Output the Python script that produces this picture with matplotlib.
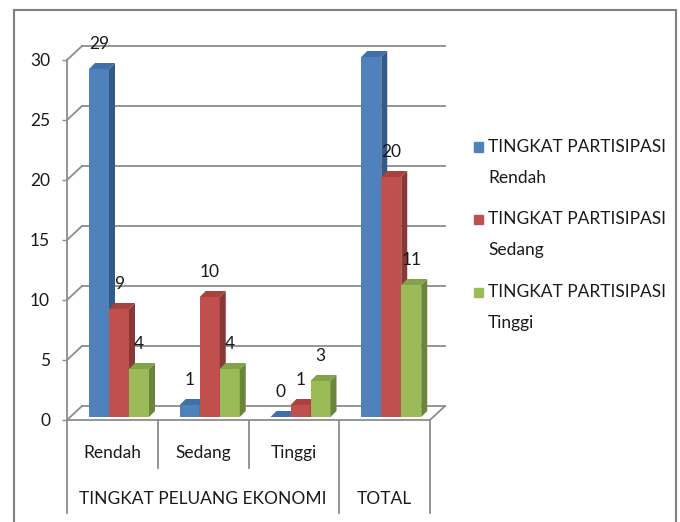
import matplotlib.pyplot as plt
from matplotlib.patches import Polygon, Rectangle
import numpy as np

plt.rcParams['font.family'] = ['Lato', 'DejaVu Sans']

# data
sub_labels = ['Rendah', 'Sedang', 'Tinggi', '']
group_labels = ['TINGKAT PELUANG EKONOMI', 'TOTAL']
group_spans = [3, 1]
series_names = ['TINGKAT PARTISIPASI Rendah', 'TINGKAT PARTISIPASI Sedang', 'TINGKAT PARTISIPASI Tinggi']
rendah = [29, 1, 0, 30]
sedang = [9, 10, 1, 20]
tinggi = [4, 4, 3, 11]
y_ticks = [0, 5, 10, 15, 20, 25, 30]

front_colors = ['#4F81BD', '#C0504D', '#9BBB59']
side_colors = ['#345A87', '#8A3836', '#6B853A']
top_colors = ['#4170A8', '#A8423F', '#84A24A']
grid_color = '#8C8C8C'
text_color = '#1A1A1A'
fs = 12.5

W, H = 680, 522
fig = plt.figure(figsize=(6.8, 5.22), dpi=100)
ax = fig.add_axes([67 / W, (H - 420) / H, 363 / W, 360 / H])
n = len(sub_labels)
ax.set_xlim(0, n)
ax.set_ylim(0, 30)
px_x = 363 / n      # pixels per category
px_y = 360 / 30     # pixels per unit

# depth of the 3d box and of the bars (in data units)
wall_dx, wall_dy = 15 / px_x, 14 / px_y
bar_dx, bar_dy = 6 / px_x, 6 / px_y
bar_base, bar_shift = 3 / px_y, 2 / px_x
bar_off, bar_w = 20 / px_x, 20 / px_x

# back wall gridlines + left wall diagonals
for v in y_ticks:
    ax.plot([wall_dx, n + wall_dx], [v + wall_dy] * 2, color=grid_color, lw=1.3, clip_on=False, zorder=1)
    ax.plot([0, wall_dx], [v, v + wall_dy], color=grid_color, lw=1.3, clip_on=False, zorder=1)
ax.plot([n, n + wall_dx], [0, wall_dy], color=grid_color, lw=1.3, clip_on=False, zorder=1)

# bars
all_series = [rendah, sedang, tinggi]
for j, vals in enumerate(all_series):
    x0 = np.arange(n) + bar_off + j * bar_w + bar_shift
    ax.bar(x0, vals, width=bar_w, bottom=bar_base, align='edge',
           color=front_colors[j], lw=0, zorder=3 + j, clip_on=False)
    for xs, v in zip(x0, vals):
        x1 = xs + bar_w
        b = bar_base
        side = [(x1, b), (x1 + bar_dx, b + bar_dy), (x1 + bar_dx, b + v + bar_dy), (x1, b + v)]
        top = [(xs, b + v), (xs + bar_dx, b + v + bar_dy), (x1 + bar_dx, b + v + bar_dy), (x1, b + v)]
        ax.add_patch(Polygon(side, closed=True, color=side_colors[j], lw=0, zorder=3 + j, clip_on=False))
        ax.add_patch(Polygon(top, closed=True, color=top_colors[j], lw=0, zorder=3 + j, clip_on=False))
        ax.annotate(str(v), (xs + bar_w / 2, b + v), xytext=(0, 25), textcoords='offset pixels',
                    ha='center', va='center', fontsize=fs, color=text_color, zorder=10)

# axes styling
for s in ['top', 'right']:
    ax.spines[s].set_visible(False)
for s in ['left', 'bottom']:
    ax.spines[s].set_color(grid_color)
    ax.spines[s].set_linewidth(1.3)
ax.set_yticks(y_ticks)
ax.set_xticks([])
ax.tick_params(axis='y', length=3.6, width=1, color=grid_color, pad=8.6,
               labelsize=fs, labelcolor=text_color)
ax.patch.set_alpha(0)

# two level category axis
for i, lab in enumerate(sub_labels):
    ax.text(i + 0.5, -33 / px_y, lab, ha='center', va='center', fontsize=fs, color=text_color, clip_on=False)
start = 0
for lab, span in zip(group_labels, group_spans):
    ax.text(start + span / 2, -79 / px_y, lab, ha='center', va='center', fontsize=fs, color=text_color, clip_on=False)
    for k in range(1, span):
        ax.plot([start + k] * 2, [0, -48 / px_y], color=grid_color, lw=1.3, clip_on=False)
    ax.plot([start] * 2, [0, -93 / px_y], color=grid_color, lw=1.3, clip_on=False)
    start += span
ax.plot([start] * 2, [0, -93 / px_y], color=grid_color, lw=1.3, clip_on=False)

# legend (drawn by hand so the marker sits on the first line)
for j, name in enumerate(series_names):
    y0 = 147 + 72.5 * j
    first, second = name.rsplit(' ', 1)
    fig.add_artist(Rectangle((474 / W, 1 - (y0 + 4.5) / H), 9 / W, 9 / H,
                             transform=fig.transFigure, color=front_colors[j]))
    fig.text(488 / W, 1 - y0 / H, first, ha='left', va='center', fontsize=fs, color=text_color)
    fig.text(488 / W, 1 - (y0 + 31) / H, second, ha='left', va='center', fontsize=fs, color=text_color)

# chart frame
fig.add_artist(Rectangle((14 / W, -10 / H), 662 / W, 522 / H, transform=fig.transFigure,
                         fill=False, ec='#808080', lw=1.5))

fig.savefig('out.png', dpi=100)
